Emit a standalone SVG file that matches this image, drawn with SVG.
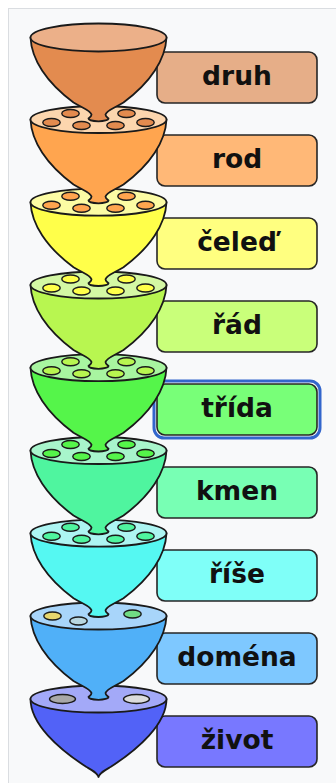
<svg xmlns="http://www.w3.org/2000/svg" xmlns:xlink="http://www.w3.org/1999/xlink" width="336" height="783" viewBox="0 0 336 783">
<style>
.bg{fill:#f8f9fa;stroke:#dadde1;stroke-width:1}
.box{stroke:#262626;stroke-width:1.6}
.lbl{font-family:"DejaVu Sans",Verdana,sans-serif;font-weight:bold;font-size:26.5px;fill:#111;text-anchor:middle}
.ln{stroke:#1a1a1a;stroke-width:1.8;stroke-linejoin:round}
.hole{stroke:#1a1a1a;stroke-width:1.4}
.focus{fill:none;stroke:#3366cc;stroke-width:3}
</style>
<defs>
<path id="body" d="M -68,0 C -67,22 -52,45 -25,65 C -15,71 -8,73 -7,77 C -7,79 -9,80 -10,81 A 10,2.8 0 0 0 10,81 C 9,80 7,79 7,77 C 8,73 15,71 25,65 C 52,45 67,22 68,0 Z"/>
<path id="tip" d="M -68,0 C -68,25 -40,50 -12,68 C -5,72 -1,74 0,78 C 1,74 5,72 12,68 C 40,50 68,25 68,0 Z"/>
<ellipse id="rim" cx="0" cy="0" rx="68" ry="13.5"/>
<ellipse id="h" cx="0" cy="0" rx="8.7" ry="4"/>
<g id="holes6">
<use xlink:href="#h" x="-28" y="-6"/>
<use xlink:href="#h" x="28" y="-6"/>
<use xlink:href="#h" x="-47" y="3"/>
<use xlink:href="#h" x="-17" y="6"/>
<use xlink:href="#h" x="17" y="6"/>
<use xlink:href="#h" x="47" y="3"/>
</g>
</defs>
<rect class="bg" x="8.5" y="8.5" width="340" height="790"/>
<g id="labels">
<g id="label-druh"><rect class="box" x="157" y="52" width="160" height="51" rx="8" fill="#e6ae88"/><text class="lbl" x="237" y="85">druh</text></g>
<g id="label-rod"><rect class="box" x="157" y="135" width="160" height="51" rx="8" fill="#ffb877"/><text class="lbl" x="237" y="168">rod</text></g>
<g id="label-celed"><rect class="box" x="157" y="218" width="160" height="51" rx="8" fill="#ffff80"/><text class="lbl" x="237" y="251">čeleď</text></g>
<g id="label-rad"><rect class="box" x="157" y="301" width="160" height="51" rx="8" fill="#c9ff7a"/><text class="lbl" x="237" y="334">řád</text></g>
<g id="label-trida"><rect class="box" x="157" y="384" width="160" height="51" rx="8" fill="#78ff78"/><rect class="focus" x="154" y="381" width="166" height="57" rx="10"/><text class="lbl" x="237" y="417">třída</text></g>
<g id="label-kmen"><rect class="box" x="157" y="467" width="160" height="51" rx="8" fill="#78ffb4"/><text class="lbl" x="237" y="500">kmen</text></g>
<g id="label-rise"><rect class="box" x="157" y="550" width="160" height="51" rx="8" fill="#7ffff8"/><text class="lbl" x="237" y="583">říše</text></g>
<g id="label-domena"><rect class="box" x="157" y="633" width="160" height="51" rx="8" fill="#7ec8ff"/><text class="lbl" x="237" y="666">doména</text></g>
<g id="label-zivot"><rect class="box" x="157" y="716" width="160" height="51" rx="8" fill="#7878ff"/><text class="lbl" x="237" y="749">život</text></g>
</g>
<g id="funnels">
<g id="funnel-zivot" transform="translate(98.5,699)">
<use class="ln" xlink:href="#tip" fill="#5262f7"/>
<use class="ln" xlink:href="#rim" fill="#a3a9f8"/>
<ellipse class="hole" cx="-36" cy="0" rx="13" ry="4.5" fill="#a8a8a8"/>
<ellipse class="hole" cx="38" cy="0" rx="13" ry="4.5" fill="#dcdcdc"/>
</g>
<g id="funnel-domena" transform="translate(98.5,616)">
<use class="ln" xlink:href="#body" fill="#50b0f8"/>
<use class="ln" xlink:href="#rim" fill="#a8d5fa"/>
<use class="hole" xlink:href="#h" x="-46" y="0" fill="#e6d66e"/>
<use class="hole" xlink:href="#h" x="-20" y="5" fill="#b8d6e0"/>
<use class="hole" xlink:href="#h" x="34" y="-2" fill="#70dc84"/>
</g>
<g id="funnel-rise" transform="translate(98.5,533.2)">
<use class="ln" xlink:href="#body" fill="#55f8f2"/>
<use class="ln" xlink:href="#rim" fill="#adf5f2"/>
<use class="hole" xlink:href="#holes6" fill="#4ff59f"/>
</g>
<g id="funnel-kmen" transform="translate(98.5,450.5)">
<use class="ln" xlink:href="#body" fill="#4ff59f"/>
<use class="ln" xlink:href="#rim" fill="#a8f5cc"/>
<use class="hole" xlink:href="#holes6" fill="#55f54a"/>
</g>
<g id="funnel-trida" transform="translate(98.5,367.7)">
<use class="ln" xlink:href="#body" fill="#55f54a"/>
<use class="ln" xlink:href="#rim" fill="#a8f5a0"/>
<use class="hole" xlink:href="#holes6" fill="#b8f650"/>
</g>
<g id="funnel-rad" transform="translate(98.5,285)">
<use class="ln" xlink:href="#body" fill="#b8f650"/>
<use class="ln" xlink:href="#rim" fill="#d4f8a4"/>
<use class="hole" xlink:href="#holes6" fill="#ffff4a"/>
</g>
<g id="funnel-celed" transform="translate(98.5,202.2)">
<use class="ln" xlink:href="#body" fill="#ffff4a"/>
<use class="ln" xlink:href="#rim" fill="#fcfca4"/>
<use class="hole" xlink:href="#holes6" fill="#ffa54f"/>
</g>
<g id="funnel-rod" transform="translate(98.5,119.5)">
<use class="ln" xlink:href="#body" fill="#ffa54f"/>
<use class="ln" xlink:href="#rim" fill="#fcd6ae"/>
<use class="hole" xlink:href="#holes6" fill="#e38b4f"/>
</g>
<g id="funnel-druh" transform="translate(98.5,37.5)">
<use class="ln" xlink:href="#body" fill="#e38b4f"/>
<ellipse class="ln" cx="0" cy="0" rx="68" ry="14" fill="#ecb089"/>
</g>
</g>
</svg>
